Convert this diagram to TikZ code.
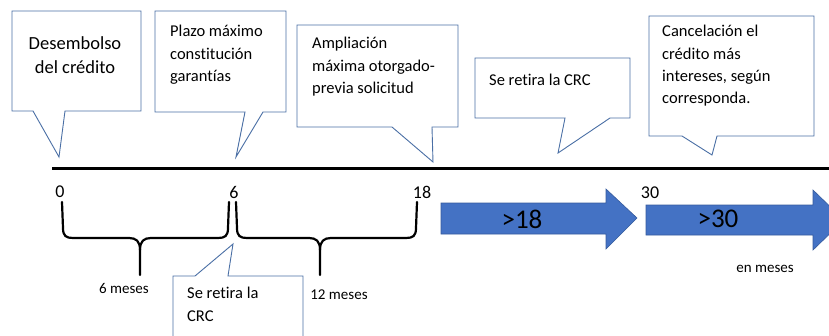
\documentclass[tikz,border=0pt]{standalone}
\usepackage{fontspec}
\setmainfont{Carlito}[Ligatures={NoCommon}]
\usetikzlibrary{calc}

\definecolor{callblue}{HTML}{4A6FA5}
\definecolor{arrowblue}{HTML}{4472C4}

\tikzset{
  callout/.style={draw=callblue, line width=0.9pt, fill=white, line join=miter},
  bigarrow/.style={fill=arrowblue, draw=arrowblue!80!black, line width=0.6pt},
  bracepath/.style={draw=black, line width=2.2pt, line join=round, line cap=round},
  calltext/.style={inner sep=0pt, anchor=north west, align=left, font=\fontsize{16.5}{22.4}\selectfont},
  ticktext/.style={inner sep=0pt, font=\fontsize{18}{20}\selectfont},
  smalltext/.style={inner sep=0pt, font=\fontsize{15}{18}\selectfont},
}

\begin{document}
\begin{tikzpicture}[x=1pt,y=-1pt]
\useasboundingbox (0,0) rectangle (829,335);
\clip (0,0) rectangle (829,335);

% time line
\coordinate (tl0) at (52,168);
\coordinate (tl1) at (829,168);
\draw[line width=3pt] (tl0) -- (tl1);

% callouts above the line
\draw[callout] (12,11) -- (141,11) -- (141,111) -- (65,111) -- (59,157) -- (33,111) -- (12,111) -- cycle;
\node[inner sep=0pt, align=center, font=\fontsize{18.5}{24}\selectfont] (desem) at (75,55) {Desembolso\\del crédito};

\draw[callout] (155,11) -- (286,11) -- (286,112) -- (263,112) -- (236,157) -- (245,112) -- (155,112) -- cycle;
\node[calltext] (plazo) at (170,25) {Plazo máximo\\constitución\\garantías};

\draw[callout] (297,25) -- (458,25) -- (458,127) -- (432,127) -- (433,162) -- (392,127) -- (297,127) -- cycle;
\node[calltext] (ampl) at (312,37) {Ampliación\\máxima otorgado-\\previa solicitud};

\draw[callout] (475,58) -- (630,58) -- (630,118) -- (610,118) -- (558,153) -- (565,118) -- (475,118) -- cycle;
\node[calltext, anchor=west] (retira) at (489,80) {Se retira la CRC};

\draw[callout] (649,16) -- (814,16) -- (814,136) -- (717,136) -- (712,155) -- (682,136) -- (649,136) -- cycle;
\node[calltext] (cancel) at (662,25) {Cancelación el\\crédito más\\intereses, según\\corresponda.};

% marks on the line
\node[ticktext] (m0) at (60,192) {0};
\node[ticktext] (m6) at (234,192) {6};
\node[ticktext] (m18) at (422,192) {18};
\node[ticktext] (m30) at (650,193) {30};

% braces
\foreach \a/\b/\m in {62/229/140, 236/417/320} {
  \draw[bracepath] (\a,202) -- (\a+1,228) .. controls (\a+1,236) and (\a+4,238) .. (\a+11,238)
    -- (\m-11,238) .. controls (\m-4,238) and (\m,241) .. (\m,250) -- (\m,275);
  \draw[bracepath] (\m,250) .. controls (\m,241) and (\m+4,238) .. (\m+11,238)
    -- (\b-11,238) .. controls (\b-4,238) and (\b-1,236) .. (\b-1,228) -- (\b,202);
}
\node[smalltext] (seis) at (124,288) {6 meses};
\node[smalltext] (doce) at (339,295) {12 meses};

% callout below the line
\draw[callout] (173,345) -- (173,276) -- (195,276) -- (233,244) -- (228,276) -- (303,276) -- (303,345);
\node[calltext] (retira2) at (187,287) {Se retira la\\CRC};

% block arrows
\draw[bigarrow] (441,203) -- (606,203) -- (606,189) -- (637,218) -- (606,249) -- (606,234) -- (441,234) -- cycle;
\node[inner sep=0pt, font=\fontsize{27}{30}\selectfont] (gt18) at (522,219) {>18};
\draw[bigarrow] (646,205) -- (813,205) -- (813,190) -- (844,220) -- (813,250) -- (813,235) -- (646,235) -- cycle;
\node[inner sep=0pt, font=\fontsize{27}{30}\selectfont] (gt30) at (718,219) {>30};

\node[inner sep=0pt, font=\fontsize{15}{18}\selectfont] (enmeses) at (765,269) {en meses};

\end{tikzpicture}
\end{document}
